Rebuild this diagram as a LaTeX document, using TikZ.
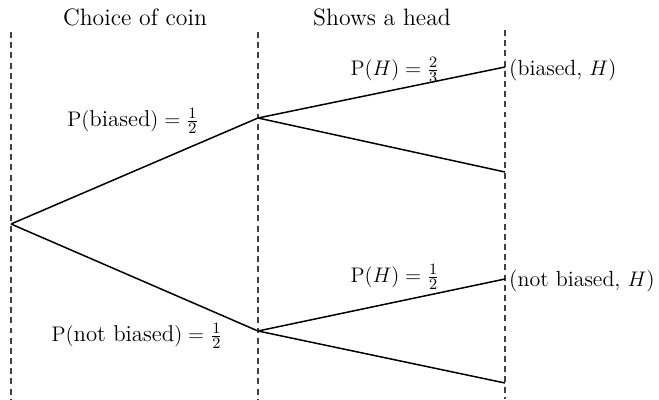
\documentclass[tikz,border=0pt]{standalone}
\usepackage{amsmath}
\usepackage{tikz}
\usetikzlibrary{positioning, calc}
\tikzset{
  stage/.style={draw=black!75, line width=0.6pt, dash pattern=on 3.4pt off 2.4pt},
  branch/.style={draw=black, line width=0.85pt},
  prob/.style={font=\fontsize{13}{15}\selectfont, inner sep=1pt},
  outcome/.style={font=\fontsize{12.5}{15}\selectfont, inner sep=0.5pt, anchor=west},
  heading/.style={font=\fontsize{13.5}{15}\selectfont, inner sep=1pt},
}

\begin{document}
\begin{tikzpicture}[x=0.02cm, y=-0.02cm]
  \useasboundingbox (0,0) rectangle (659,399);

  % Stage lines
  \draw[stage] (11,32) -- (11,399);
  \draw[stage] (258,32) -- (258,399);
  \draw[stage] (505,30) -- (505,399);

  % Headings
  \node[heading] (coinhd) at (135,17) {Choice of coin};
  \node[heading] (headhd) at (382,17) {Shows a head};

  % Tree points
  \coordinate (root) at (11,224);
  \coordinate (biased) at (258,118);
  \coordinate (fair) at (258,331);
  \coordinate (bh) at (505,67);
  \coordinate (bt) at (505,172);
  \coordinate (fh) at (505,279);
  \coordinate (ft) at (505,383);

  % Branches
  \draw[branch] (root) -- (biased);
  \draw[branch] (root) -- (fair);
  \draw[branch] (biased) -- (bh);
  \draw[branch] (biased) -- (bt);
  \draw[branch] (fair) -- (fh);
  \draw[branch] (fair) -- (ft);

  % Probabilities
  \node[prob] (pbiased) at (133,121) {$\mathrm{P}(\text{biased}) = \frac{1}{2}$};
  \node[prob] (pfair) at (137,336) {$\mathrm{P}(\text{not biased}) = \frac{1}{2}$};
  \node[prob] (pbh) at (395,70) {$\mathrm{P}(H) = \frac{2}{3}$};
  \node[prob] (pfh) at (395,277) {$\mathrm{P}(H) = \frac{1}{2}$};

  % Outcomes
  \node[outcome] (obh) at (508,70) {(biased, $H$)};
  \node[outcome] (ofh) at (508,281) {(not biased, $H$)};
\end{tikzpicture}
\end{document}
